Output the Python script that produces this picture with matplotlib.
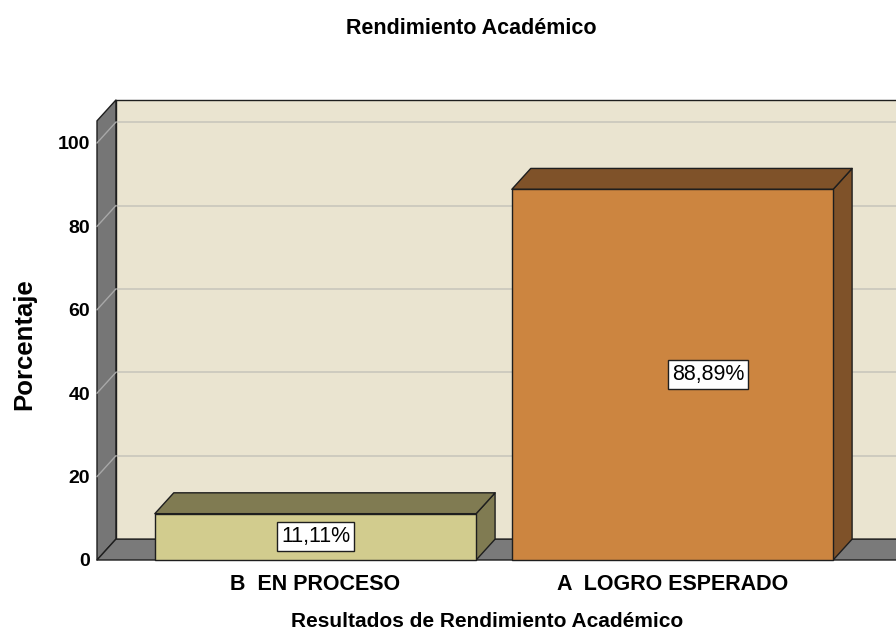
# -*- coding: utf-8 -*-
"""
plot.py
Rendimiento Académico – SPSS-style 3D bar chart

Figure produced
---------------
out.png
"""
import matplotlib.pyplot as plt
from matplotlib.patches import Polygon

# ─────────────────────────────────────────────────────────────────────────────
# Data
# ─────────────────────────────────────────────────────────────────────────────

CATEGORIES = ["B  EN PROCESO", "A  LOGRO ESPERADO"]
PERCENT    = [11.11, 88.89]
VALUE_TXT  = ["11,11%", "88,89%"]
Y_TICKS    = [0, 20, 40, 60, 80, 100]

TITLE  = "Rendimiento Académico"
XLABEL = "Resultados de Rendimiento Académico"
YLABEL = "Porcentaje"

# ─────────────────────────────────────────────────────────────────────────────
# Style
# ─────────────────────────────────────────────────────────────────────────────

plt.rcParams.update(
    {
        "font.family": ["Liberation Sans", "DejaVu Sans"],
        "font.weight": "bold",
    }
)

WALL_COL  = "#EAE4D0"
GRID_COL  = "#C9C6BC"
SIDE_COL  = "#767676"
FLOOR_COL = "#7A7A7A"
EDGE_COL  = "#1E1E1E"
BAR_FRONT = ["#D2CC8E", "#CC8540"]
BAR_DARK  = ["#807B52", "#7F5229"]

BAR_W  = 0.9             # bar width (category units)
DX, DY = 0.053, 5.0      # depth offset (x units, y units)
X_LO, X_HI = -0.612, 1.626
Y_TOP  = 105.3           # front top of the left wall
LABEL_DX = [0.0, 0.10]   # label nudge along x


def poly(ax, pts, fc, z, lw=1.0):
    ax.add_patch(Polygon(pts, closed=True, facecolor=fc, edgecolor=EDGE_COL,
                         lw=lw, zorder=z, clip_on=False, joinstyle="round"))


def main():
    fig = plt.figure(figsize=(8.96, 6.34), dpi=100)
    ax = fig.add_axes([97 / 896, 74 / 634, (896 - 97) / 896, (560 - 100) / 634])
    ax.set_xlim(X_LO, X_HI)
    ax.set_ylim(0, Y_TOP + DY)
    for s in ax.spines.values():
        s.set_visible(False)
    ax.patch.set_visible(False)

    # ── back wall ────────────────────────────────────────────────────────────
    xr = X_HI + 0.2
    poly(ax, [(X_LO + DX, DY), (xr, DY), (xr, Y_TOP + DY), (X_LO + DX, Y_TOP + DY)],
         WALL_COL, 1)
    for v in Y_TICKS[1:]:
        ax.plot([X_LO + DX, xr], [v + DY, v + DY], color=GRID_COL, lw=1.2, zorder=2,
                clip_on=False)

    # ── left wall ────────────────────────────────────────────────────────────
    poly(ax, [(X_LO, 0), (X_LO + DX, DY), (X_LO + DX, Y_TOP + DY), (X_LO, Y_TOP)],
         SIDE_COL, 3)
    for v in Y_TICKS[1:]:
        ax.plot([X_LO, X_LO + DX], [v, v + DY], color="#A8A8A8", lw=1.0, zorder=4,
                clip_on=False)

    # ── floor ────────────────────────────────────────────────────────────────
    poly(ax, [(X_LO, 0), (xr, 0), (xr + DX, DY), (X_LO + DX, DY)], FLOOR_COL, 3)

    # ── bars ─────────────────────────────────────────────────────────────────
    for i, v in enumerate(PERCENT):
        x0, x1 = i - BAR_W / 2, i + BAR_W / 2
        poly(ax, [(x1, 0), (x1 + DX, DY), (x1 + DX, v + DY), (x1, v)], BAR_DARK[i], 5)
        poly(ax, [(x0, v), (x1, v), (x1 + DX, v + DY), (x0 + DX, v + DY)], BAR_DARK[i], 5)
        poly(ax, [(x0, 0), (x1, 0), (x1, v), (x0, v)], BAR_FRONT[i], 6)
        ax.text(i + LABEL_DX[i], v / 2, VALUE_TXT[i], ha="center", va="center",
                fontsize=15.5, fontweight="normal", zorder=8,
                bbox=dict(boxstyle="square,pad=0.18", facecolor="white",
                          edgecolor=EDGE_COL, lw=1.0))

    # ── axes text ────────────────────────────────────────────────────────────
    ax.set_yticks(Y_TICKS)
    ax.set_xticks(range(len(CATEGORIES)))
    ax.set_xticklabels(CATEGORIES)
    ax.tick_params(axis="y", length=0, pad=5, labelsize=14)
    ax.tick_params(axis="x", length=0, pad=10, labelsize=15.5)

    ax.set_ylabel(YLABEL, fontsize=18.5, fontweight="bold")
    ax.yaxis.set_label_coords(-0.076, 0.47)
    ax.set_xlabel(XLABEL, fontsize=15, fontweight="bold")
    ax.xaxis.set_label_coords((487 - 97) / 799, -0.114)

    fig.text(471 / 896, 1 - 28 / 634, TITLE, ha="center", va="center",
             fontsize=15.5, fontweight="bold")

    fig.savefig("out.png", dpi=100)
    plt.close(fig)


if __name__ == "__main__":
    main()
